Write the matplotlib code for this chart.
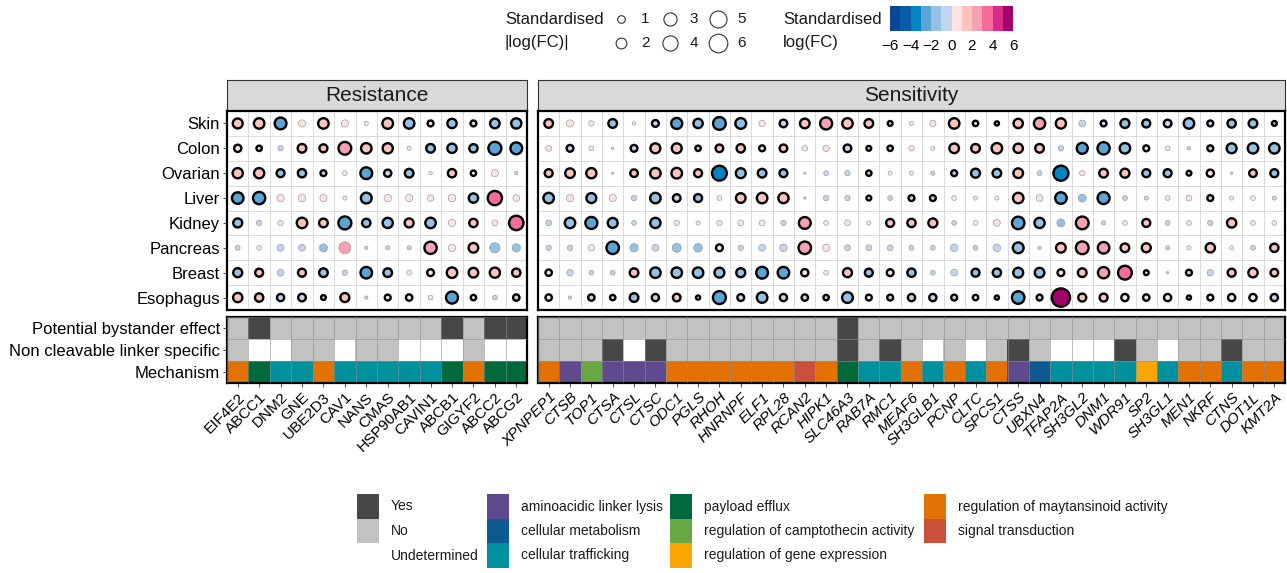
import numpy as np
import matplotlib as mpl
import matplotlib.pyplot as plt
from matplotlib.colors import ListedColormap, BoundaryNorm, to_rgb
from matplotlib.patches import Rectangle

plt.rcParams['font.family'] = ['Liberation Sans', 'DejaVu Sans']
plt.rcParams['text.color'] = '#1a1a1a'

tissues = ['Skin', 'Colon', 'Ovarian', 'Liver', 'Kidney', 'Pancreas', 'Breast', 'Esophagus']

resistance_genes = ['EIF4E2', 'ABCC1', 'DNM2', 'GNE', 'UBE2D3', 'CAV1', 'NANS', 'CMAS',
                    'HSP90AB1', 'CAVIN1', 'ABCB1', 'GIGYF2', 'ABCC2', 'ABCG2']
sensitivity_genes = ['XPNPEP1', 'CTSB', 'TOP1', 'CTSA', 'CTSL', 'CTSC', 'ODC1', 'PGLS', 'RHOH',
                     'HNRNPF', 'ELF1', 'RPL28', 'RCAN2', 'HIPK1', 'SLC46A3', 'RAB7A', 'RMC1',
                     'MEAF6', 'SH3GLB1', 'PCNP', 'CLTC', 'SPCS1', 'CTSS', 'UBXN4', 'TFAP2A',
                     'SH3GL2', 'DNM1', 'WDR91', 'SP2', 'SH3GL1', 'MEN1', 'NKRF', 'CTNS',
                     'DOT1L', 'KMT2A']

# standardised log(FC), one row per tissue
logfc_res = [
    [1.7, 1.9, -2.4, 0.9, 1.9, 0.9, 0.3, 1.95, -1.9, 0.6, -1.5, -0.6, -1.6, -1.8],
    [0.9, -0.5, -0.5, 1.3, 1.1, 2.8, 1.9, 1.8, 0.3, -1.3, -1.5, -1.2, -2.9, -2.4],
    [1.8, 1.8, -1.1, -1.2, -0.6, 0.4, -2.4, -0.9, -1.3, 0.2, 1.2, 0.5, 0.9, -0.2],
    [-2.3, -2.6, 0.95, 0.9, 0.9, 0.3, -2.0, 0.95, 0.9, 0.7, 0.95, -1.5, 3.5, 0.8],
    [-1.4, -0.5, 0.5, 1.9, 1.3, -2.9, -1.2, -1.8, 1.4, -1.9, 0.9, 1.2, 0.6, 3.6],
    [-0.4, 0.4, -0.8, -0.8, -1.1, 2.5, -0.2, -0.3, -0.3, 2.6, 0.9, 1.6, -1.8, -1.2],
    [-1.4, 1.1, -0.8, 1.1, -1.3, -0.5, -2.3, -1.3, 0.4, 0.8, 1.9, 1.6, 1.8, 1.2],
    [1.5, 1.2, -0.9, -1.0, -0.4, 1.4, -0.2, 0.6, 0.7, 0.4, -2.5, 0.5, -0.4, -0.7],
]
sig_res = [
    [1, 1, 1, 0, 1, 0, 0, 1, 1, 1, 1, 1, 1, 1],
    [1, 1, 0, 1, 1, 1, 1, 1, 0, 1, 1, 1, 1, 1],
    [1, 1, 1, 1, 1, 0, 1, 1, 1, 0, 1, 1, 0, 0],
    [1, 1, 0, 0, 0, 0, 1, 0, 0, 0, 0, 1, 1, 0],
    [1, 0, 0, 1, 1, 1, 1, 1, 1, 1, 0, 1, 0, 1],
    [0, 0, 0, 0, 0, 0, 0, 0, 0, 1, 0, 1, 0, 0],
    [1, 1, 0, 1, 1, 0, 1, 1, 0, 1, 1, 1, 1, 1],
    [1, 1, 1, 1, 1, 1, 0, 1, 1, 0, 1, 1, 0, 1],
]

logfc_sen = [
    [1.3, 0.9, 0.5, -1.3, 0.2, -0.8, -2.1, -1.5, -2.8, -2.0, 0.7, -1.0, 1.6, 2.5, 1.9, 1.3, -0.4, 0.3,
     0.7, 1.9, 0.5, -0.3, 1.5, 2.2, 1.8, -0.8, -0.6, -1.4, -1.1, -1.0, -1.9, -0.6, -1.2, -1.3, -0.4],
    [0.6, -0.8, 0.4, -0.1, -0.8, 1.7, 1.7, -0.5, 1.0, 1.2, 0.6, 1.0, 0.5, 0.7, -1.0, -0.4, -0.5, 0.5,
     0.3, 1.6, 1.3, 1.9, 1.5, 1.3, -0.5, -2.1, -2.6, -1.9, 0.6, 0.4, -0.2, -0.6, -1.7, -1.9, -1.9],
    [1.1, 1.6, 1.8, -0.1, 1.0, 1.9, 1.95, 1.1, -3.8, -1.7, -1.3, -1.1, -0.1, -0.4, -0.5, -0.5, 0.3, 0.3,
     -0.3, -0.6, -1.4, -1.3, 1.6, -0.4, -3.9, 0.5, 1.3, 1.4, -1.1, -1.1, -0.4, 0.9, -0.1, 1.0, -1.1],
    [-1.9, 0.9, -1.7, 0.9, -0.5, -1.9, -1.0, -1.1, 0.4, 1.6, 1.9, 1.8, -0.1, -0.5, -0.5, -0.4, -0.4, -0.6,
     -0.6, 0.4, 0.3, 0.3, 1.9, 0.8, -2.3, -1.1, -2.5, -0.4, -0.3, 0.4, 0.6, -0.6, 0.3, 0.4, -0.3],
    [-0.6, -1.9, -2.5, -1.7, -0.4, -1.8, 0.5, 0.3, 0.5, 0.6, 0.6, -0.5, 2.4, 0.4, 0.6, 0.3, 1.1, 1.2,
     1.4, -0.4, 0.4, 0.8, -2.7, -1.8, -1.1, 2.8, -0.3, 0.4, 1.1, -0.4, 0.4, -0.5, 1.5, 0.4, 0.4],
    [-0.5, -0.5, 0.7, -2.7, -1.2, -0.8, -1.4, -1.3, 0.8, -0.5, -0.8, -1.0, 2.7, 0.9, -0.6, -0.6, -0.6, -0.4,
     -0.4, -1.0, -0.4, -1.0, -2.0, -0.2, 1.6, 2.8, 2.3, 1.3, 1.4, -0.3, 0.3, 1.5, 0.3, -0.4, 1.2],
    [0.7, -0.7, -0.4, -0.4, 1.3, -1.9, -1.9, -1.9, -1.7, -1.4, -2.4, -2.3, 0.9, 0.4, 1.4, -1.1, 0.8, -1.2,
     -0.4, -0.8, -1.1, -1.2, -1.7, -1.6, 0.8, 1.3, 2.2, 3.3, 0.4, -0.1, -0.6, -0.7, 1.1, 1.5, 1.0],
    [0.7, -0.2, -0.7, -0.5, -1.3, -0.9, 1.0, -0.3, -2.9, -0.8, -1.9, -0.9, -0.7, -0.5, -2.0, 0.6, -0.6, -0.9,
     -0.9, -0.6, 0.5, -0.3, -2.7, -0.6, 5.8, 1.1, 1.1, 0.9, 0.7, 0.9, -0.3, 0.6, 0.9, 0.9, -0.9],
]
sig_sen = [
    [1, 0, 0, 1, 0, 1, 1, 1, 1, 1, 0, 1, 1, 1, 1, 1, 1, 0, 0, 1, 1, 1, 1, 1, 1, 0, 1, 1, 1, 1, 1, 1, 1, 1, 1],
    [0, 1, 0, 0, 1, 1, 1, 1, 1, 1, 1, 1, 0, 0, 1, 1, 1, 0, 0, 1, 1, 1, 1, 1, 0, 1, 1, 1, 1, 0, 0, 1, 1, 1, 1],
    [1, 1, 1, 0, 1, 1, 1, 1, 1, 1, 1, 1, 0, 0, 0, 1, 0, 0, 0, 1, 1, 1, 1, 0, 1, 0, 1, 1, 1, 1, 1, 1, 0, 1, 1],
    [1, 0, 1, 0, 0, 1, 1, 1, 0, 1, 1, 1, 0, 0, 0, 1, 0, 1, 1, 0, 0, 0, 1, 0, 1, 0, 1, 0, 0, 0, 0, 1, 0, 0, 0],
    [0, 1, 1, 1, 0, 1, 0, 0, 0, 0, 0, 0, 1, 0, 0, 0, 1, 1, 1, 0, 0, 0, 1, 1, 0, 1, 0, 0, 1, 0, 0, 0, 1, 0, 0],
    [0, 0, 0, 1, 0, 0, 0, 0, 1, 0, 0, 0, 1, 0, 0, 0, 0, 0, 0, 0, 0, 0, 1, 0, 1, 1, 1, 1, 1, 0, 0, 1, 0, 0, 1],
    [1, 0, 0, 0, 1, 1, 1, 1, 1, 1, 1, 1, 1, 0, 1, 1, 1, 1, 0, 0, 1, 1, 1, 1, 1, 1, 1, 1, 1, 0, 1, 0, 1, 1, 1],
    [1, 0, 1, 1, 1, 1, 1, 1, 1, 1, 1, 1, 1, 1, 1, 1, 1, 1, 1, 1, 1, 1, 1, 1, 1, 1, 1, 1, 1, 1, 1, 1, 1, 1, 1],
]

# Y = yes, N = no, U = undetermined
bystander_res = list('NYNNNNNNNNYNYY')
noncleav_res = list('NUUNNUNNUUUNUU')
mechanism_res = ['mayt', 'efflux', 'traffic', 'traffic', 'mayt', 'traffic', 'traffic', 'traffic',
                 'traffic', 'traffic', 'efflux', 'mayt', 'efflux', 'efflux']

bystander_sen = list('NNNNNNNNNNNNNNYNNNNNNNNNNNNNNNNNNNN')
noncleav_sen = list('NNNYUYNNNNNNNNYNYNUNUNYNUUUYNUNNYNN')
mechanism_sen = ['mayt', 'lysis', 'campto', 'lysis', 'lysis', 'lysis', 'mayt', 'mayt', 'mayt',
                 'mayt', 'mayt', 'mayt', 'signal', 'mayt', 'efflux', 'traffic', 'traffic', 'mayt',
                 'traffic', 'mayt', 'traffic', 'mayt', 'lysis', 'metab', 'traffic', 'traffic',
                 'traffic', 'traffic', 'gene', 'traffic', 'mayt', 'mayt', 'traffic', 'mayt', 'mayt']

status_names = {'Y': 'Yes', 'N': 'No', 'U': 'Undetermined'}
status_colors = {'Y': '#474747', 'N': '#c2c2c2', 'U': '#ffffff'}

mech_names = {
    'lysis': 'aminoacidic linker lysis',
    'metab': 'cellular metabolism',
    'traffic': 'cellular trafficking',
    'efflux': 'payload efflux',
    'campto': 'regulation of camptothecin activity',
    'gene': 'regulation of gene expression',
    'mayt': 'regulation of maytansinoid activity',
    'signal': 'signal transduction',
}
mech_colors = {
    'lysis': '#5e4a8c',
    'metab': '#0c5a91',
    'traffic': '#00909e',
    'efflux': '#016a3c',
    'campto': '#67a845',
    'gene': '#f9a602',
    'mayt': '#e37204',
    'signal': '#cb503a',
}

fc_colors = ['#0a4596', '#0a5ca8', '#0485c2', '#5aa5d4', '#94c1e4', '#c2d5ef',
             '#fde2e2', '#fbc3bc', '#f9a1b4', '#f56b9c', '#dc2a8c', '#a3006b']
fc_bounds = np.arange(-6, 7)
cmap = ListedColormap(fc_colors)
norm = BoundaryNorm(fc_bounds, cmap.N)
size_breaks = [1, 2, 3, 4, 5, 6]
SIZE = 30  # marker area (pt^2) per unit of |log(FC)|

W, H = 1287, 573
fig = plt.figure(figsize=(W / 100, H / 100), dpi=100)


def px_axes(x0, y0, x1, y1):
    return fig.add_axes([x0 / W, 1 - y1 / H, (x1 - x0) / W, (y1 - y0) / H])


def cell_grid(ax, ncol, nrow, color, lw):
    ax.set_xticks(np.arange(ncol + 1) - 0.5, minor=True)
    ax.set_yticks(np.arange(nrow + 1) - 0.5, minor=True)
    ax.grid(which='minor', color=color, linewidth=lw)
    ax.tick_params(which='minor', length=0)


def frame(ax, lw=1.6):
    for sp in ax.spines.values():
        sp.set_color('black')
        sp.set_linewidth(lw)


def dot_panel(ax, vals, sig, genes, show_y):
    vals = np.array(vals)
    sig = np.array(sig, dtype=bool)
    rows, cols = np.indices(vals.shape)
    for mask, ec, lw in [(~sig, '#8c8c8c', 0.4), (sig, 'black', 1.7)]:
        ax.scatter(cols[mask], rows[mask], s=SIZE * np.abs(vals[mask]), c=vals[mask],
                   cmap=cmap, norm=norm, edgecolors=ec, linewidths=lw, zorder=3)
    ax.set_xlim(-0.5, len(genes) - 0.5)
    ax.set_ylim(len(tissues) - 0.5, -0.5)
    ax.set_xticks([])
    if show_y:
        ax.set_yticks(range(len(tissues)))
        ax.set_yticklabels(tissues, fontsize=12)
        ax.tick_params(axis='y', length=3, width=0.6, color='#333333', pad=2)
    else:
        ax.set_yticks([])
    cell_grid(ax, len(genes), len(tissues), '#d4d4d4', 0.6)
    frame(ax)


def strip(ax, label):
    ax.set_facecolor('#d9d9d9')
    ax.set_xticks([])
    ax.set_yticks([])
    for sp in ax.spines.values():
        sp.set_color('#333333')
        sp.set_linewidth(0.8)
    ax.text(0.5, 0.5, label, ha='center', va='center', fontsize=15,
            color='#1a1a1a', transform=ax.transAxes)


def annot_panel(ax, genes, bystander, noncleav, mech, italic, show_y):
    rgb = np.array([[to_rgb(status_colors[c]) for c in bystander],
                    [to_rgb(status_colors[c]) for c in noncleav],
                    [to_rgb(mech_colors[m]) for m in mech]])
    n = len(genes)
    ax.imshow(rgb, aspect='auto', interpolation='nearest', extent=(-0.5, n - 0.5, 2.5, -0.5))
    ax.set_xticks(range(n))
    ax.set_xticklabels(genes, rotation=45, ha='right', va='top', rotation_mode='anchor',
                       fontsize=11, fontstyle='italic' if italic else 'normal')
    ax.tick_params(axis='x', length=3, width=0.6, color='#333333', pad=2)
    if show_y:
        ax.set_yticks(range(3))
        ax.set_yticklabels(['Potential bystander effect', 'Non cleavable linker specific',
                            'Mechanism'], fontsize=12)
        ax.tick_params(axis='y', length=3, width=0.6, color='#333333', pad=2)
    else:
        ax.set_yticks([])
    cell_grid(ax, n, 3, '#8f8f8f', 0.4)
    ax.set_axisbelow(False)
    frame(ax)


# facets
strip(px_axes(227, 80, 527, 111), 'Resistance')
strip(px_axes(538, 80, 1285, 111), 'Sensitivity')
dot_panel(px_axes(227, 111, 527, 310), logfc_res, sig_res, resistance_genes, True)
dot_panel(px_axes(538, 111, 1285, 310), logfc_sen, sig_sen, sensitivity_genes, False)
annot_panel(px_axes(227, 317, 527, 383), resistance_genes, bystander_res, noncleav_res,
            mechanism_res, False, True)
annot_panel(px_axes(538, 317, 1285, 383), sensitivity_genes, bystander_sen, noncleav_sen,
            mechanism_sen, True, False)

# colour scale
cax = px_axes(890, 6, 1013, 31)
cb = fig.colorbar(mpl.cm.ScalarMappable(norm=norm, cmap=cmap), cax=cax,
                  orientation='horizontal', ticks=fc_bounds[::2])
cb.outline.set_visible(False)
cax.tick_params(length=0, labelsize=11, pad=6)
cax.minorticks_off()

# legends drawn on a pixel-space overlay
lax = fig.add_axes([0, 0, 1, 1])
lax.set_xlim(0, W)
lax.set_ylim(H, 0)
lax.axis('off')
lax.patch.set_alpha(0)

lax.text(505, 20, 'Standardised', fontsize=12, va='center')
lax.text(505, 42, '|log(FC)|', fontsize=12, va='center')
lax.text(783, 20, 'Standardised', fontsize=12, va='center')
lax.text(783, 42, 'log(FC)', fontsize=12, va='center')

for i, b in enumerate(size_breaks):
    cx = 621 + (i // 2) * 48.5
    cy = 19 + (i % 2) * 24
    lax.scatter([cx], [cy], s=SIZE * b, facecolors='white', edgecolors='#333333',
                linewidths=0.8, clip_on=False)
    lax.text(cx + 24, cy, str(b), fontsize=11, ha='center', va='center')

groups = [
    (357, [(status_colors[k], status_names[k]) for k in ['Y', 'N', 'U']]),
    (487, [(mech_colors[k], mech_names[k]) for k in ['lysis', 'metab', 'traffic']]),
    (670, [(mech_colors[k], mech_names[k]) for k in ['efflux', 'campto', 'gene']]),
    (924, [(mech_colors[k], mech_names[k]) for k in ['mayt', 'signal']]),
]
for gx, items in groups:
    for j, (col, name) in enumerate(items):
        top = 494 + j * 24.5
        lax.add_patch(Rectangle((gx, top), 22, 24.5, facecolor=col, edgecolor='none'))
        lax.text(gx + 34, top + 12.5, name, fontsize=10, va='center')

fig.savefig('out.png', dpi=100)
